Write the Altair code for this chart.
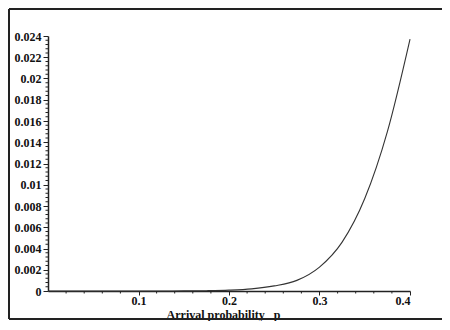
import altair as alt
import pandas as pd

# Curve values
p_values = [0.0, 0.025, 0.05, 0.075, 0.1, 0.125, 0.15, 0.175, 0.2, 0.225,
            0.25, 0.275, 0.3, 0.325, 0.35, 0.375, 0.4]
prob_values = [0.0, 0.0, 0.0, 0.0, 0.000002, 0.000005, 0.00001, 0.00003, 0.00008,
               0.0002, 0.00048, 0.001, 0.00225, 0.0046, 0.0087, 0.015, 0.0237]

x_ticks = [0.1, 0.2, 0.3, 0.4]
y_ticks = [0, 0.002, 0.004, 0.006, 0.008, 0.01, 0.012, 0.014, 0.016, 0.018,
           0.02, 0.022, 0.024]
x_minor = [round(0.02 * i, 4) for i in range(1, 20) if i % 5 != 0]
y_minor = [round(0.0004 * i, 5) for i in range(1, 60) if i % 5 != 0]

FONT = "Liberation Serif"
W, H = 362, 255

df = pd.DataFrame({"p": p_values, "prob": prob_values})

xscale = alt.Scale(domain=[0, 0.4], nice=False, zero=False)
yscale = alt.Scale(domain=[0, 0.024], nice=False)
xaxis = alt.Axis(values=x_ticks, format="~g", title="Arrival probability\u00a0\u00a0 p",
                 tickSize=4, labelPadding=0, titlePadding=3,
                 titleX=175, titleAnchor="start", titleAlign="center")
yaxis = alt.Axis(values=y_ticks, format="~g", title=None, tickSize=5, labelPadding=2)

line = alt.Chart(df).mark_line(color="#333333", strokeWidth=1.1, interpolate="monotone").encode(
    x=alt.X("p:Q", scale=xscale, axis=xaxis),
    y=alt.Y("prob:Q", scale=yscale, axis=yaxis),
)

xm = alt.Chart(pd.DataFrame({"p": x_minor})).mark_rule(color="#222222", strokeWidth=1).encode(
    x=alt.X("p:Q", scale=xscale, axis=xaxis),
    y=alt.value(H), y2=alt.value(H + 2.5),
)
ym = alt.Chart(pd.DataFrame({"prob": y_minor})).mark_rule(color="#222222", strokeWidth=1).encode(
    y=alt.Y("prob:Q", scale=yscale, axis=yaxis),
    x=alt.value(0), x2=alt.value(-2.5),
)

one = pd.DataFrame({"a": [0]})
border_left = alt.Chart(one).mark_rule(color="#222222", strokeWidth=2).encode(
    x=alt.value(-39), x2=alt.value(-39), y=alt.value(-27), y2=alt.value(283))
border_top = alt.Chart(one).mark_rule(color="#222222", strokeWidth=2).encode(
    x=alt.value(-39), x2=alt.value(700), y=alt.value(-27), y2=alt.value(-27))
border_bottom = alt.Chart(one).mark_rule(color="#222222", strokeWidth=2).encode(
    x=alt.value(-39), x2=alt.value(700), y=alt.value(283), y2=alt.value(283))

chart = alt.layer(line, xm, ym, border_left, border_top, border_bottom).properties(
    width=W, height=H,
    autosize=alt.AutoSizeParams(type="none"),
    padding={"left": 40, "top": 28, "right": 32, "bottom": 30},
).configure_view(stroke=None).configure_axis(
    grid=False,
    domainColor="#222222", domainWidth=1.5,
    tickColor="#222222", tickWidth=1,
    labelColor="#111111", labelFont=FONT, labelFontWeight="bold", labelFontSize=12,
    titleColor="#111111", titleFont=FONT, titleFontWeight="bold", titleFontSize=12,
)

chart.save("out.html", embed_options={"renderer": "svg", "actions": False})
